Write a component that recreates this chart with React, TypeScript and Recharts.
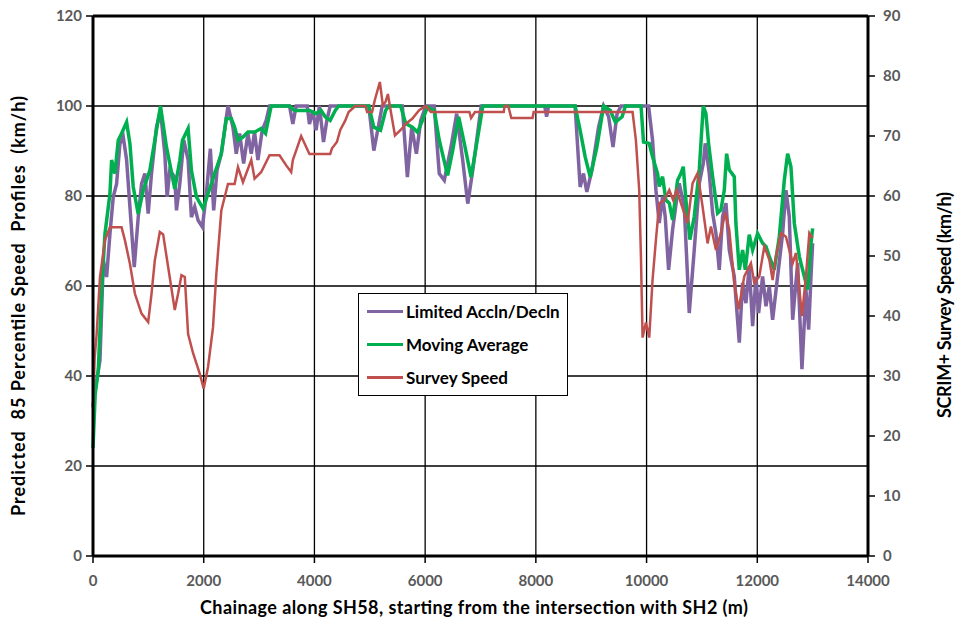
import React from "react";
import {
  LineChart,
  Line,
  XAxis,
  YAxis,
  CartesianGrid,
  Legend,
  ReferenceLine,
} from "recharts";

const FONT = "Lato, 'Open Sans', sans-serif";

// axis ticks
const chainageTicks = [0, 2000, 4000, 6000, 8000, 10000, 12000, 14000];
const predictedTicks = [0, 20, 40, 60, 80, 100, 120];
const surveyTicks = [0, 10, 20, 30, 40, 50, 60, 70, 80, 90];

// Limited Accln/Decln (left axis, km/h)
const limitedCh = [
  0, 36, 126, 186, 246, 306, 366, 426, 486, 547, 607, 667, 745, 817, 877, 937,
  997, 1057, 1147, 1219, 1297, 1339, 1387, 1477, 1508, 1568, 1640, 1718, 1778,
  1838, 1898, 1976, 2048, 2120, 2180, 2240, 2318, 2438, 2528, 2588, 2649, 2721,
  2799, 2859, 2919, 2979, 3057, 3129, 3189, 3550, 3610, 3670, 3870, 3910, 3970,
  4030, 4090, 4164, 4224, 4285, 4982, 5073, 5164, 5224, 5588, 5679, 5758, 5842,
  5921, 6012, 6164, 6255, 6346, 6467, 6570, 6679, 6770, 6860, 7012, 8160, 8194,
  8230, 8709, 8800, 8860, 8921, 9012, 9133, 9224, 9315, 9394, 9467, 9540, 10036,
  10108, 10169, 10229, 10289, 10337, 10398, 10470, 10542, 10590, 10681, 10771,
  10861, 10952, 11024, 11060, 11133, 11193, 11253, 11313, 11373, 11434, 11494,
  11584, 11675, 11735, 11795, 11855, 11916, 11976, 12024, 12096, 12157, 12217,
  12277, 12367, 12458, 12518, 12578, 12639, 12729, 12807, 12879, 12928, 12970,
  13000,
];
const limitedSpeed = [
  33, 36.8, 43.5, 65.7, 62, 71.6, 79.8, 82.7, 91.6, 93.1, 88, 77.6, 64.2, 75.3,
  82.7, 85, 76.1, 85, 95.3, 99, 89.4, 79.8, 85.7, 84.2, 76.8, 82.7, 92.4, 88,
  75.3, 77.6, 74.6, 73.1, 80.5, 90.5, 76.8, 85.7, 89.4, 100, 95.3, 89.4, 93.9,
  87.2, 93.9, 89.4, 94.2, 88, 94.6, 96.8, 100, 100, 96, 100, 100, 96, 99, 94.6,
  100, 92, 96.8, 100, 100, 90.1, 96, 100, 100, 84.2, 95.3, 89.4, 96.8, 100, 100,
  85, 83.5, 90.9, 98.3, 87.9, 78.3, 85.7, 100, 100, 97.6, 100, 100, 82, 85,
  80.9, 85.7, 95.3, 100, 97.6, 90.9, 98.3, 100, 100, 92.4, 81.3, 74, 79.9, 75.4,
  63.6, 72.5, 79.1, 82.8, 77.6, 54, 68, 82.8, 87.2, 91.7, 85, 76.2, 71.7, 63.6,
  75.4, 78.4, 68, 62.1, 47.4, 60.7, 56.2, 64.4, 51.1, 62.1, 54, 62.1, 55.5, 59.9,
  52.5, 62.1, 71.7, 81.3, 75.4, 52.5, 65.1, 41.5, 59.2, 50.3, 62.1, 69.5,
];

// Moving Average (left axis, km/h)
const movingCh = [
  0, 40, 96, 160, 216, 306, 336, 396, 456, 516, 607, 667, 727, 817, 907, 1027,
  1117, 1219, 1327, 1477, 1568, 1616, 1718, 1778, 1868, 1988, 2078, 2198, 2318,
  2408, 2498, 2558, 2619, 2709, 2799, 2919, 3039, 3117, 3219, 3550, 3640, 3910,
  4030, 4120, 4194, 4285, 4376, 4438, 4982, 5073, 5194, 5285, 5345, 5558, 5648,
  5770, 5861, 5952, 6042, 6164, 6255, 6406, 6497, 6606, 6709, 6830, 6921, 7042,
  8709, 8800, 8891, 8982, 9103, 9224, 9345, 9436, 9558, 9618, 9900, 9945, 10048,
  10108, 10199, 10229, 10289, 10349, 10410, 10470, 10560, 10620, 10663, 10711,
  10783, 10861, 10952, 11024, 11072, 11120, 11193, 11283, 11343, 11404, 11446,
  11494, 11584, 11614, 11675, 11735, 11783, 11855, 11916, 12006, 12096, 12157,
  12217, 12307, 12398, 12488, 12548, 12608, 12669, 12759, 12819, 12910, 12970,
  13000,
];
const movingSpeed = [
  24, 36, 41.3, 60, 71.6, 80.5, 88, 85, 92.4, 93.9, 96.4, 91.6, 82, 76, 81.3,
  85.7, 92.4, 100, 90.9, 81.6, 87.9, 92.4, 95, 85.7, 79.8, 77.2, 80.5, 85, 89.4,
  97.2, 97.2, 95.3, 92.4, 93.1, 94.2, 94.2, 95, 93.9, 100, 100, 99, 99, 98.3, 99,
  97.6, 96.8, 99, 100, 100, 95.3, 94.6, 99, 100, 100, 96.1, 95.3, 94.2, 96.8,
  99.8, 99, 92.4, 84.6, 90.1, 97.6, 91.6, 84.2, 90.9, 100, 100, 94.6, 88.7, 84.2,
  90.9, 100, 99, 96.4, 97.6, 100, 100, 92, 91.7, 88.7, 85, 82.1, 84.3, 79.1, 78.4,
  74.7, 83.5, 85, 86.5, 79.1, 70.3, 75.4, 85.8, 100, 98.3, 91.7, 84.3, 76.2, 76.9,
  81.3, 89.4, 85.8, 84.3, 73.9, 63.6, 68, 63.6, 71.4, 68, 71.7, 69.5, 68.8, 66.6,
  63.6, 71, 83.5, 89.4, 86.5, 73.9, 66.6, 63.6, 59.2, 69.5, 72.8,
];

// Survey Speed (right axis, km/h)
const surveyCh = [
  0, 30, 66, 126, 216, 306, 516, 577, 667, 757, 877, 997, 1057, 1117, 1207, 1267,
  1357, 1477, 1537, 1598, 1658, 1718, 1808, 1928, 2000, 2078, 2168, 2228, 2318,
  2438, 2558, 2619, 2709, 2859, 2919, 3039, 3189, 3369, 3490, 3580, 3610, 3760,
  3910, 4285, 4315, 4406, 4467, 4558, 4618, 4739, 4921, 4952, 5042, 5091, 5182,
  5236, 5285, 5327, 5376, 5455, 5558, 5648, 5770, 5891, 6012, 6103, 6800, 6830,
  6900, 7420, 7436, 7500, 7557, 7940, 7960, 9747, 9807, 9867, 9898, 9928, 9988,
  10048, 10108, 10169, 10229, 10319, 10410, 10482, 10542, 10620, 10741, 10831,
  10922, 11012, 11102, 11163, 11253, 11343, 11421, 11494, 11584, 11663, 11765,
  11885, 11946, 12036, 12127, 12217, 12277, 12338, 12428, 12518, 12639, 12699,
  12807, 12879, 12940, 13000,
];
const surveySpeed = [
  25, 33, 37, 46.5, 52.6, 54.8, 54.8, 52.6, 48.7, 43.7, 40.4, 39, 43.7, 49.3, 54,
  53.6, 48.2, 41, 43.7, 46.8, 46.5, 37, 33.8, 30.4, 27.9, 31.5, 38.1, 47, 57.6,
  62, 62, 64.8, 62.3, 66, 62.9, 64, 66.8, 66.8, 65.1, 64, 66, 70, 67, 67, 67.9,
  69, 71, 72.6, 74, 75, 75, 74, 74, 76, 79, 75.1, 75.7, 77, 74.3, 70.1, 71, 72,
  72.9, 74.3, 75, 74, 74, 73, 74, 74, 75, 75, 73, 73, 74, 74, 69.3, 61, 50, 36.4,
  38.9, 36.4, 46, 52.7, 58.8, 59.3, 61, 59.3, 61, 58.8, 55.5, 62.1, 63.8, 58.2,
  52.1, 54.9, 51, 53.8, 57.2, 54.4, 45.5, 41.1, 46.6, 48.8, 45.5, 46.6, 51.6,
  49.4, 46, 50, 53.8, 53.2, 48.8, 50.5, 40, 46.6, 53.8, 53,
];

const toRows = (ch: number[], v: number[]) =>
  ch.map((c, i) => ({ ch: c, v: v[i] }));

const limitedData = toRows(limitedCh, limitedSpeed);
const movingData = toRows(movingCh, movingSpeed);
const surveyData = toRows(surveyCh, surveySpeed);

// axis titles drawn at fixed spots (prop names kept apart from Label's own)
const AxisTitle = (props: any) => {
  const { tx, ty, rot, text, span } = props;
  return (
    <text
      x={tx}
      y={ty}
      transform={rot ? `rotate(${rot} ${tx} ${ty})` : undefined}
      textAnchor="middle"
      dominantBaseline="central"
      fontFamily={FONT}
      fontWeight="bold"
      fontSize={18}
      fill="#000"
      textLength={span}
      lengthAdjust="spacing"
      style={{ whiteSpace: "pre" }}
    >
      {text}
    </text>
  );
};

const LegendBox = (props: any) => {
  const { payload } = props;
  return (
    <div
      style={{
        width: 210,
        height: 103,
        boxSizing: "border-box",
        border: "1.5px solid #000",
        background: "#fff",
        paddingTop: 1,
      }}
    >
      {(payload || []).map((entry: any) => (
        <div
          key={entry.value}
          style={{ display: "flex", alignItems: "center", height: 33 }}
        >
          <div
            style={{
              width: 36,
              height: entry.color === "#C0504D" ? 2.5 : 3.5,
              background: entry.color,
              marginLeft: 8,
              marginRight: 3,
            }}
          />
          <span
            style={{
              fontFamily: FONT,
              fontWeight: "bold",
              fontSize: 17,
              color: "#000",
            }}
          >
            {entry.value}
          </span>
        </div>
      ))}
    </div>
  );
};

const tickStyle = {
  fill: "#595959",
  fontSize: 15,
  fontWeight: "bold",
  fontFamily: FONT,
};

export default function App() {
  return (
    <div
      style={{
        position: "absolute",
        left: 0,
        top: 0,
        width: 956,
        height: 621,
        background: "#fff",
      }}
    >
      <LineChart
        width={956}
        height={621}
        margin={{ top: 16, right: 28, bottom: 25, left: 33 }}
      >
        <CartesianGrid
          yAxisId="left"
          stroke="#000"
          strokeWidth={1.3}
          verticalValues={chainageTicks}
        />
        <XAxis
          dataKey="ch"
          type="number"
          domain={[0, 14000]}
          ticks={chainageTicks}
          height={40}
          axisLine={{ stroke: "#000", strokeWidth: 3 }}
          tickLine={{ stroke: "#000", strokeWidth: 1.5 }}
          tickSize={7}
          tickMargin={12}
          tick={tickStyle}
          interval={0}
          label={
            <AxisTitle
              tx={474}
              ty={607}
              span={548}
              text="Chainage along SH58, starting from the intersection with SH2 (m)"
            />
          }
        />
        <YAxis
          yAxisId="left"
          domain={[0, 120]}
          ticks={predictedTicks}
          width={60}
          axisLine={{ stroke: "#000", strokeWidth: 3 }}
          tickLine={{ stroke: "#000", strokeWidth: 1.5 }}
          tickSize={7}
          tickMargin={4}
          tick={tickStyle}
          interval={0}
          label={
            <AxisTitle
              tx={18}
              ty={306}
              rot={-90}
              span={420}
              text="Predicted  85 Percentile Speed  Profiles  (km/h)"
            />
          }
        />
        <YAxis
          yAxisId="right"
          orientation="right"
          domain={[0, 90]}
          ticks={surveyTicks}
          width={60}
          axisLine={{ stroke: "#000", strokeWidth: 3 }}
          tickLine={{ stroke: "#000", strokeWidth: 1.5 }}
          tickSize={7}
          tickMargin={8}
          tick={tickStyle}
          interval={0}
          label={
            <AxisTitle
              tx={944}
              ty={305}
              rot={-90}
              span={226}
              text="SCRIM+ Survey Speed (km/h)"
            />
          }
        />
        <ReferenceLine yAxisId="left" y={120} stroke="#000" strokeWidth={3} />
        <Line
          yAxisId="left"
          data={limitedData}
          dataKey="v"
          name="Limited Accln/Decln"
          stroke="#8064A2"
          strokeWidth={3.5}
          dot={false}
          type="linear"
          isAnimationActive={false}
        />
        <Line
          yAxisId="left"
          data={movingData}
          dataKey="v"
          name="Moving Average"
          stroke="#00B050"
          strokeWidth={3.5}
          dot={false}
          type="linear"
          isAnimationActive={false}
        />
        <Line
          yAxisId="right"
          data={surveyData}
          dataKey="v"
          name="Survey Speed"
          stroke="#C0504D"
          strokeWidth={2.5}
          dot={false}
          type="linear"
          isAnimationActive={false}
        />
        <Legend
          layout="vertical"
          align="center"
          verticalAlign="middle"
          content={<LegendBox />}
          wrapperStyle={{ left: 358, top: 293, width: 210, height: 103 }}
        />
      </LineChart>
    </div>
  );
}
